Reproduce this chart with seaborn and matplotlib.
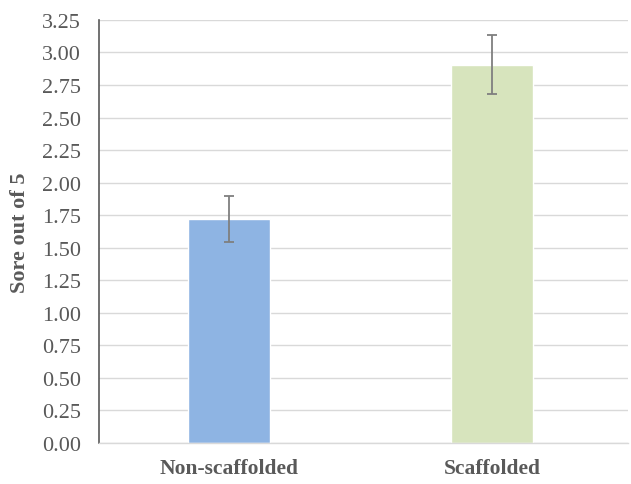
import pandas as pd
import matplotlib.pyplot as plt
import seaborn as sns

groups = ['Non-scaffolded', 'Scaffolded']
scores = [1.72, 2.905]
errors = [0.178, 0.227]
bar_colors = ['#8EB4E3', '#D7E4BD']
yticks = [0.00, 0.25, 0.50, 0.75, 1.00, 1.25, 1.50, 1.75, 2.00, 2.25, 2.50, 2.75, 3.00, 3.25]

df = pd.DataFrame({'group': groups, 'score': scores})

sns.set_style('white')
plt.rcParams['font.family'] = ['Liberation Serif', 'DejaVu Serif']
text_col = '#595959'

fig = plt.figure(figsize=(6.31, 4.85), dpi=100)
ax = fig.add_axes([0.157, 0.0845, 0.838, 0.8725])

sns.barplot(data=df, x='group', y='score', hue='group', palette=bar_colors,
            width=0.312, saturation=1, legend=False, ax=ax, zorder=2)
ax.errorbar(range(len(groups)), scores, yerr=errors, fmt='none',
            ecolor='#7F7F7F', elinewidth=1.3, capsize=3.3, capthick=1.3, zorder=3)

ax.set_xlim(-0.494, 1.517)
ax.set_ylim(0, 3.25)
ax.set_yticks(yticks)
ax.set_yticklabels([f'{t:.2f}' for t in yticks], fontsize=16, color=text_col)
ax.yaxis.grid(True, color='#D9D9D9', linewidth=1, zorder=0)
ax.set_axisbelow(True)

for lab in ax.get_xticklabels():
    lab.set_fontweight('bold')
    lab.set_fontsize(15.5)
    lab.set_color(text_col)
ax.tick_params(axis='x', pad=11, length=0)
ax.tick_params(axis='y', length=0, pad=13)
ax.set_xlabel('')
ax.set_ylabel('Sore out of 5', fontsize=16, fontweight='bold', color=text_col, labelpad=9)

for s in ['top', 'right']:
    ax.spines[s].set_visible(False)
ax.spines['left'].set_color('#595959')
ax.spines['left'].set_linewidth(1.2)
ax.spines['bottom'].set_color('#D9D9D9')
ax.spines['bottom'].set_linewidth(1)

plt.savefig('out.png', dpi=100)
